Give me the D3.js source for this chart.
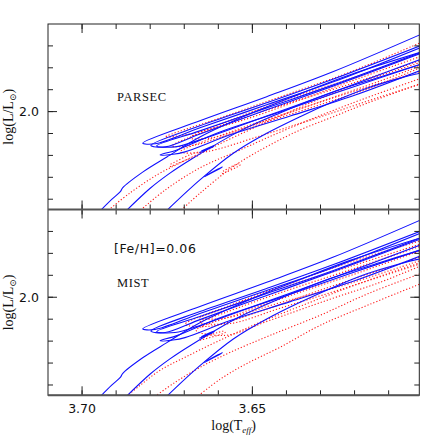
<!doctype html>
<html lang=en>
<head>
<meta charset="utf-8">
<title>isochrones</title>
<script src="https://cdn.jsdelivr.net/npm/d3@7"></script>
<style>
body { margin: 0; background: white; }
svg { display: block; }
.serif { font-family: "Liberation Serif", "DejaVu Serif", serif; fill: #111; }
.sans { font-family: "DejaVu Sans", sans-serif; fill: #111; }
</style>
</head>
<body>
<div id=chart></div>
<script>

// axis ticks
var xMinor = [3.70, 3.69, 3.68, 3.67, 3.66, 3.65, 3.64, 3.63, 3.62, 3.61]
var xMajor = [3.70, 3.65]
var yMinor = [1.6, 1.7, 1.8, 1.9, 2.0, 2.1, 2.2, 2.3]
var yMajor = [2.0]

// blue solid tracks, [log Teff, log L] (same in both panels)
var blueRgbA = [[3.6953,1.537],[3.6913,1.599],[3.6887,1.636],[3.6881,1.652],[3.6821,1.725],[3.6751,1.793],[3.6654,1.884],[3.6507,1.990],[3.6360,2.081],[3.6213,2.168],[3.6002,2.273]]
var blueRgbB = [[3.6877,1.537],[3.6800,1.650],[3.6742,1.719],[3.6683,1.779],[3.6536,1.912],[3.6419,1.994],[3.6272,2.085],[3.6125,2.158],[3.6002,2.218]]
var blueRgbC = [[3.6759,1.537],[3.6654,1.688],[3.6556,1.810],[3.6458,1.901],[3.6360,1.977],[3.6262,2.046],[3.6164,2.107],[3.6066,2.153],[3.6002,2.177]]
var blueClumpB = [[3.6656,1.813],[3.6615,1.840],[3.6612,1.845],[3.6650,1.820]]
var blueClumpC = [[3.6641,1.703],[3.6592,1.743],[3.6588,1.748],[3.6636,1.709]]
var blueLoop1 = [[3.6002,2.355],[3.6262,2.183],[3.6458,2.068],[3.6654,1.958],[3.6822,1.856],[3.6786,1.853],[3.6654,1.926],[3.6458,2.031],[3.6262,2.136],[3.6002,2.295]]
var blueLoop2 = [[3.6002,2.304],[3.6262,2.149],[3.6458,2.040],[3.6654,1.935],[3.6798,1.846],[3.6756,1.839],[3.6654,1.898],[3.6458,2.008],[3.6262,2.117],[3.6002,2.268]]
var blueLoop3 = [[3.6002,2.273],[3.6262,2.122],[3.6458,2.017],[3.6654,1.912],[3.6781,1.843],[3.6727,1.839],[3.6654,1.871],[3.6458,1.980],[3.6262,2.090],[3.6002,2.241]]
var blueLoop4 = [[3.6002,2.218],[3.6213,2.108],[3.6419,1.998],[3.6595,1.907],[3.6722,1.825],[3.6771,1.802],[3.6733,1.805],[3.6698,1.816],[3.6565,1.894],[3.6389,1.980],[3.6198,2.076],[3.6002,2.191]]

// red dotted tracks, PARSEC panel
var parsecRgbA = [[3.6930,1.541],[3.6859,1.629],[3.6780,1.711],[3.6712,1.766],[3.6609,1.843],[3.6477,1.939],[3.6330,2.040],[3.6184,2.131],[3.6002,2.227]]
var parsecRgbB = [[3.6835,1.541],[3.6756,1.642],[3.6654,1.743],[3.6536,1.825],[3.6389,1.926],[3.6213,2.035],[3.6002,2.154]]
var parsecRgbC = [[3.6715,1.542],[3.6654,1.627],[3.6556,1.749],[3.6458,1.840],[3.6360,1.916],[3.6262,1.977],[3.6164,2.038],[3.6002,2.131]]
var parsecClumpA = [[3.6742,1.748],[3.6700,1.776],[3.6654,1.806],[3.6660,1.814],[3.6745,1.756]]
var parsecClumpC = [[3.6589,1.716],[3.6536,1.757],[3.6540,1.762],[3.6592,1.722]]
var parsecLoop1 = [[3.6002,2.318],[3.6213,2.181],[3.6419,2.067],[3.6595,1.971],[3.6756,1.884],[3.6683,1.898],[3.6536,1.957],[3.6360,2.053],[3.6184,2.154],[3.6002,2.254]]
var parsecLoop2 = [[3.6002,2.236],[3.6213,2.126],[3.6419,2.026],[3.6595,1.935],[3.6736,1.843],[3.6668,1.848],[3.6507,1.930],[3.6330,2.017],[3.6154,2.108],[3.6002,2.204]]
var parsecLoop3 = [[3.6002,2.186],[3.6198,2.095],[3.6389,1.998],[3.6565,1.907],[3.6712,1.816],[3.6639,1.816],[3.6477,1.889],[3.6301,1.976],[3.6125,2.067],[3.6002,2.127]]
var parsecLoop4 = [[3.6002,2.270],[3.6213,2.150],[3.6419,2.045],[3.6565,1.960],[3.6683,1.880],[3.6620,1.880],[3.6477,1.950],[3.6301,2.045],[3.6125,2.140],[3.6002,2.212]]

// red dotted tracks, MIST panel
var mistRgbA = [[3.6877,1.539],[3.6830,1.598],[3.6771,1.667],[3.6698,1.726],[3.6595,1.804],[3.6477,1.886],[3.6330,1.977],[3.6184,2.064],[3.6002,2.160]]
var mistRgbB = [[3.6794,1.539],[3.6727,1.612],[3.6654,1.680],[3.6565,1.749],[3.6448,1.826],[3.6301,1.918],[3.6155,2.020],[3.6002,2.110]]
var mistRgbC = [[3.6665,1.543],[3.6595,1.626],[3.6521,1.694],[3.6419,1.772],[3.6301,1.872],[3.6155,1.968],[3.6002,2.064]]
var mistClump = [[3.6654,1.804],[3.6580,1.840],[3.6585,1.845],[3.6650,1.812]]
var mistLoop1 = [[3.6002,2.260],[3.6213,2.160],[3.6389,2.064],[3.6565,1.963],[3.6697,1.877],[3.6624,1.868],[3.6477,1.936],[3.6301,2.032],[3.6125,2.123],[3.6002,2.187]]
var mistLoop2 = [[3.6002,2.215],[3.6184,2.114],[3.6360,2.023],[3.6536,1.927],[3.6665,1.849],[3.6580,1.826],[3.6448,1.895],[3.6272,1.991],[3.6125,2.068],[3.6002,2.146]]
var mistLoop3 = [[3.6002,2.245],[3.6213,2.140],[3.6419,2.040],[3.6580,1.950],[3.6654,1.905],[3.6580,1.905],[3.6419,1.975],[3.6242,2.050],[3.6002,2.170]]
var mistLoop4 = [[3.6002,2.235],[3.6213,2.125],[3.6419,2.020],[3.6580,1.930],[3.6654,1.886],[3.6565,1.880],[3.6419,1.950],[3.6242,2.035],[3.6002,2.155]]

var blueTracks = [blueRgbA, blueRgbB, blueRgbC, blueClumpB, blueClumpC, blueLoop1, blueLoop2, blueLoop3, blueLoop4]
var parsecTracks = [parsecRgbA, parsecRgbB, parsecRgbC, parsecClumpA, parsecClumpC, parsecLoop1, parsecLoop2, parsecLoop3, parsecLoop4]
var mistTracks = [mistRgbA, mistRgbB, mistRgbC, mistClump, mistLoop1, mistLoop2, mistLoop3, mistLoop4]

// frame: left, right, top of upper panel, shared edge, bottom of lower panel
var L = 48, R = 419.3, T1 = 24, MID = 209.5, B2 = 395.3

var svg = d3.select("#chart").append("svg")
  .attr("width", 443).attr("height", 443)

var x = d3.scaleLinear().domain([3.71, 3.601]).range([L, R])

var panels = [
  {name: "top", y0: T1, y1: MID, red: parsecTracks},
  {name: "bot", y0: MID, y1: B2, red: mistTracks}
]

panels.forEach(function(p){
  var y = d3.scaleLinear().domain([1.553, 2.4]).range([p.y1, p.y0])

  svg.append("clipPath").attr("id", "clip-" + p.name)
    .append("rect").attr("x", L).attr("y", p.y0)
    .attr("width", R - L).attr("height", p.y1 - p.y0)

  var line = d3.line()
    .x(d => x(d[0])).y(d => y(d[1]))
    .curve(d3.curveCatmullRom.alpha(0.5))

  var g = svg.append("g").attr("clip-path", "url(#clip-" + p.name + ")")

  g.selectAll(".red").data(p.red).enter().append("path")
    .attr("d", line)
    .attr("fill", "none")
    .attr("stroke", "#ff1a1a")
    .attr("stroke-width", 1.1)
    .attr("stroke-dasharray", "1.2,2")

  g.selectAll(".blue").data(blueTracks).enter().append("path")
    .attr("d", line)
    .attr("fill", "none")
    .attr("stroke", "#1010ff")
    .attr("stroke-width", 1.1)

  // ticks on all four sides
  var tb = svg.append("g").attr("stroke", "#222").attr("stroke-width", 1)
  function xticks(vals, len){
    tb.selectAll(null).data(vals).enter().append("line")
      .attr("x1", d => x(d)).attr("x2", d => x(d))
      .attr("y1", p.y1).attr("y2", p.y1 - len)
    tb.selectAll(null).data(vals).enter().append("line")
      .attr("x1", d => x(d)).attr("x2", d => x(d))
      .attr("y1", p.y0).attr("y2", p.y0 + len)
  }
  function yticks(vals, len){
    tb.selectAll(null).data(vals).enter().append("line")
      .attr("x1", L).attr("x2", L + len)
      .attr("y1", d => y(d)).attr("y2", d => y(d))
    tb.selectAll(null).data(vals).enter().append("line")
      .attr("x1", R).attr("x2", R - len)
      .attr("y1", d => y(d)).attr("y2", d => y(d))
  }
  xticks(xMinor, 5); xticks(xMajor, 9)
  yticks(yMinor, 5); yticks(yMajor, 9)

  svg.append("g").selectAll("text").data(yMajor).enter().append("text")
    .attr("class", "sans")
    .attr("x", 39).attr("y", d => y(d))
    .attr("dy", "0.35em")
    .attr("text-anchor", "end")
    .attr("font-size", 12.5)
    .text(d => d3.format(".1f")(d))

  var yl = svg.append("text").attr("class", "serif")
    .attr("transform", "translate(13," + ((p.y0 + p.y1) / 2) + ") rotate(-90)")
    .attr("text-anchor", "middle")
    .attr("font-size", 14)
  yl.append("tspan").text("log(L/L")
  yl.append("tspan").attr("font-size", 9).attr("dy", 3).text("\u2299")
  yl.append("tspan").attr("dy", -3).text(")")
})

// frame
svg.append("rect").attr("x", L).attr("y", T1)
  .attr("width", R - L).attr("height", B2 - T1)
  .attr("fill", "none").attr("stroke", "#222").attr("stroke-width", 1)
svg.append("line").attr("x1", L).attr("x2", R).attr("y1", MID).attr("y2", MID)
  .attr("stroke", "#555").attr("stroke-width", 2)
svg.append("line").attr("x1", L).attr("x2", R).attr("y1", B2).attr("y2", B2)
  .attr("stroke", "#555").attr("stroke-width", 2)

// x tick labels and title
svg.append("g").selectAll("text").data(xMajor).enter().append("text")
  .attr("class", "sans")
  .attr("x", d => x(d)).attr("y", 413)
  .attr("text-anchor", "middle")
  .attr("font-size", 12.5)
  .text(d => d3.format(".2f")(d))

var xl = svg.append("text").attr("class", "serif")
  .attr("x", (L + R) / 2).attr("y", 430)
  .attr("text-anchor", "middle")
  .attr("font-size", 14)
xl.append("tspan").text("log(T")
xl.append("tspan").attr("font-size", 9).attr("font-style", "italic").attr("dy", 3).text("eff")
xl.append("tspan").attr("dy", -3).text(")")

// panel notes
svg.append("text").attr("class", "serif").attr("x", 117).attr("y", 101)
  .attr("font-size", 12.5).attr("letter-spacing", 0.6).text("PARSEC")
svg.append("text").attr("class", "sans").attr("x", 114).attr("y", 253)
  .attr("font-size", 12.5).attr("letter-spacing", 0.6).text("[Fe/H]=0.06")
svg.append("text").attr("class", "serif").attr("x", 117).attr("y", 287)
  .attr("font-size", 12.5).attr("letter-spacing", 0.6).text("MIST")

</script>
</body>
</html>
